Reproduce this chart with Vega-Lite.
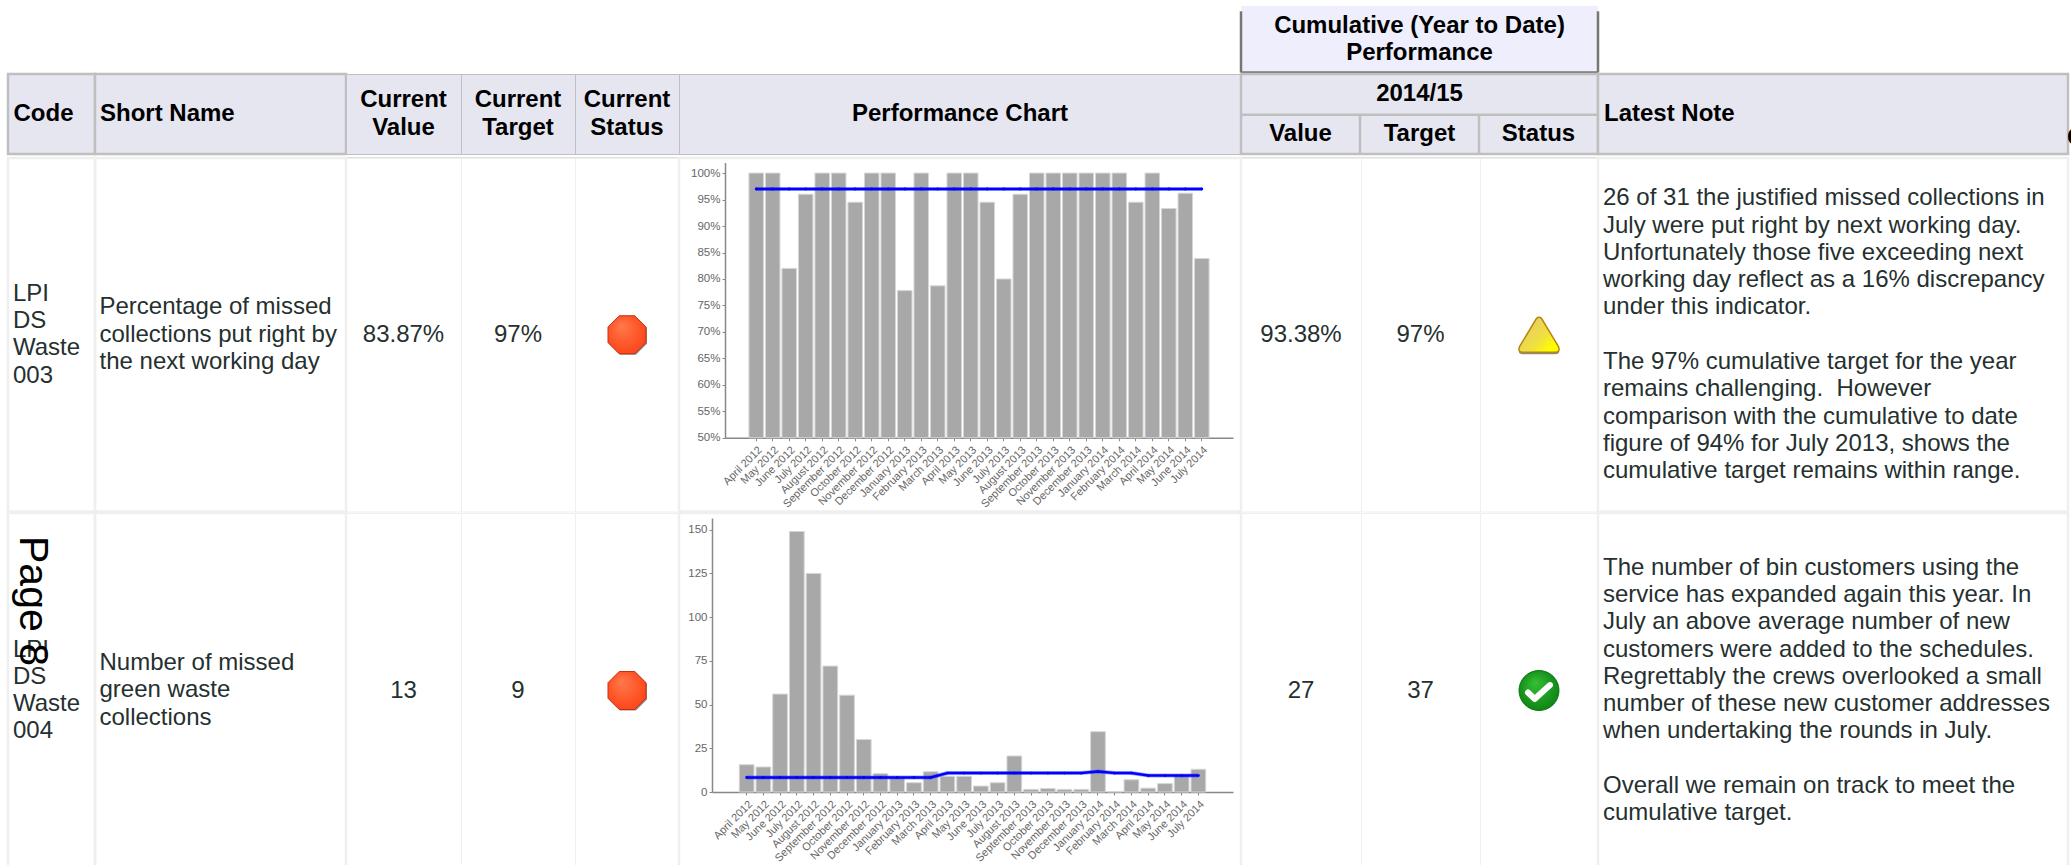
{"$schema":"https://vega.github.io/schema/vega-lite/v6.json","padding":{"left":6,"top":6,"right":0,"bottom":0},"background":"white","spacing":-2.5,"config":{"view":{"stroke":"#efefef","strokeWidth":2.5},"text":{"font":"Liberation Sans","fontSize":24,"lineHeight":27.3,"lineBreak":"\n","color":"#25302f"},"axis":{"grid":false,"title":null,"labelFont":"Liberation Sans","labelColor":"#666666","domainColor":"#888888","tickColor":"#888888","domainWidth":1.5,"tickSize":3}},"datasets":{"missed":[{"month":"April 2012","actual":100,"target":97},{"month":"May 2012","actual":100,"target":97},{"month":"June 2012","actual":82,"target":97},{"month":"July 2012","actual":96,"target":97},{"month":"August 2012","actual":100,"target":97},{"month":"September 2012","actual":100,"target":97},{"month":"October 2012","actual":94.5,"target":97},{"month":"November 2012","actual":100,"target":97},{"month":"December 2012","actual":100,"target":97},{"month":"January 2013","actual":77.8,"target":97},{"month":"February 2013","actual":100,"target":97},{"month":"March 2013","actual":78.7,"target":97},{"month":"April 2013","actual":100,"target":97},{"month":"May 2013","actual":100,"target":97},{"month":"June 2013","actual":94.5,"target":97},{"month":"July 2013","actual":80,"target":97},{"month":"August 2013","actual":96,"target":97},{"month":"September 2013","actual":100,"target":97},{"month":"October 2013","actual":100,"target":97},{"month":"November 2013","actual":100,"target":97},{"month":"December 2013","actual":100,"target":97},{"month":"January 2014","actual":100,"target":97},{"month":"February 2014","actual":100,"target":97},{"month":"March 2014","actual":94.5,"target":97},{"month":"April 2014","actual":100,"target":97},{"month":"May 2014","actual":93.3,"target":97},{"month":"June 2014","actual":96.2,"target":97},{"month":"July 2014","actual":83.87,"target":97}],"green":[{"month":"April 2012","actual":15.6,"target":8.3},{"month":"May 2012","actual":14.3,"target":8.3},{"month":"June 2012","actual":56,"target":8.3},{"month":"July 2012","actual":149,"target":8.3},{"month":"August 2012","actual":125,"target":8.3},{"month":"September 2012","actual":72,"target":8.3},{"month":"October 2012","actual":55.4,"target":8.3},{"month":"November 2012","actual":30,"target":8.3},{"month":"December 2012","actual":10.5,"target":8.3},{"month":"January 2013","actual":8,"target":8.3},{"month":"February 2013","actual":5.3,"target":8.3},{"month":"March 2013","actual":11.6,"target":8.3},{"month":"April 2013","actual":9,"target":10.8},{"month":"May 2013","actual":9,"target":10.8},{"month":"June 2013","actual":3.4,"target":10.8},{"month":"July 2013","actual":5.3,"target":10.8},{"month":"August 2013","actual":20.6,"target":10.8},{"month":"September 2013","actual":1.5,"target":10.8},{"month":"October 2013","actual":2,"target":10.8},{"month":"November 2013","actual":1.5,"target":10.8},{"month":"December 2013","actual":1.5,"target":10.8},{"month":"January 2014","actual":34.5,"target":11.7},{"month":"February 2014","actual":0.3,"target":10.8},{"month":"March 2014","actual":7,"target":10.8},{"month":"April 2014","actual":2.2,"target":9.4},{"month":"May 2014","actual":4.8,"target":9.4},{"month":"June 2014","actual":9.5,"target":9.4},{"month":"July 2014","actual":13,"target":9.4}]},"vconcat":[{"hconcat":[{"width":1233,"height":66.5,"view":{"stroke":null},"data":{"values":[{"t":""}]},"mark":{"type":"rect","opacity":0},"encoding":{}},{"width":357,"height":66.5,"view":{"stroke":null,"fill":"#eeeefc"},"data":{"values":[{"t":"Cumulative (Year to Date)\nPerformance"}]},"layer":[{"mark":{"type":"text","fontWeight":"bold","color":"#000000","dy":-13.65},"encoding":{"text":{"field":"t"}}},{"mark":{"type":"rule","color":"#777770","strokeWidth":2.5},"encoding":{"x":{"datum":0,"scale":{"domain":[0,1]},"axis":null},"y":{"datum":0.92,"scale":{"domain":[0,1]},"axis":null},"y2":{"datum":0}}},{"mark":{"type":"rule","color":"#777770","strokeWidth":2.5},"encoding":{"x":{"datum":1,"scale":{"domain":[0,1]},"axis":null},"y":{"datum":0.92,"scale":{"domain":[0,1]},"axis":null},"y2":{"datum":0}}},{"mark":{"type":"rule","color":"#777770","strokeWidth":2.5},"encoding":{"y":{"datum":0,"scale":{"domain":[0,1]},"axis":null}}}]}],"spacing":0,"bounds":"flush"},{"hconcat":[{"width":87,"height":80,"view":{"stroke":"#bfbfbf","fill":"#e6e6f0"},"data":{"values":[{"t":"Code"}]},"mark":{"type":"text","align":"left","dx":5.5,"fontWeight":"bold","color":"#000000"},"encoding":{"text":{"field":"t"},"x":{"datum":0,"scale":{"domain":[0,1]},"axis":null}}},{"width":251,"height":80,"view":{"stroke":"#bfbfbf","fill":"#e6e6f0"},"data":{"values":[{"t":"Short Name"}]},"mark":{"type":"text","align":"left","dx":5,"fontWeight":"bold","color":"#000000"},"encoding":{"text":{"field":"t"},"x":{"datum":0,"scale":{"domain":[0,1]},"axis":null}}},{"width":115,"height":80,"view":{"stroke":"#bfbfbf","fill":"#e6e6f0"},"data":{"values":[{"t":"Current\nValue"}]},"mark":{"type":"text","dy":-13.65,"fontWeight":"bold","color":"#000000"},"encoding":{"text":{"field":"t"}}},{"width":114,"height":80,"view":{"stroke":"#bfbfbf","fill":"#e6e6f0"},"data":{"values":[{"t":"Current\nTarget"}]},"mark":{"type":"text","dy":-13.65,"fontWeight":"bold","color":"#000000"},"encoding":{"text":{"field":"t"}}},{"width":104,"height":80,"view":{"stroke":"#bfbfbf","fill":"#e6e6f0"},"data":{"values":[{"t":"Current\nStatus"}]},"mark":{"type":"text","dy":-13.65,"fontWeight":"bold","color":"#000000"},"encoding":{"text":{"field":"t"}}},{"width":562,"height":80,"view":{"stroke":"#bfbfbf","fill":"#e6e6f0"},"data":{"values":[{"t":"Performance Chart"}]},"mark":{"type":"text","fontWeight":"bold","color":"#000000"},"encoding":{"text":{"field":"t"}}},{"width":357,"height":80,"view":{"stroke":"#bfbfbf","fill":"#e6e6f0"},"data":{"values":[{"y":"2014/15","v":"Value","g":"Target","s":"Status"}]},"layer":[{"mark":{"type":"text","fontWeight":"bold","color":"#000000"},"encoding":{"text":{"field":"y"},"x":{"datum":1.5,"scale":{"domain":[0,3]},"axis":null},"y":{"datum":1.5,"scale":{"domain":[0,2]},"axis":null}}},{"mark":{"type":"text","fontWeight":"bold","color":"#000000"},"encoding":{"text":{"field":"v"},"x":{"datum":0.5,"scale":{"domain":[0,3]},"axis":null},"y":{"datum":0.49,"scale":{"domain":[0,2]},"axis":null}}},{"mark":{"type":"text","fontWeight":"bold","color":"#000000"},"encoding":{"text":{"field":"g"},"x":{"datum":1.5,"scale":{"domain":[0,3]},"axis":null},"y":{"datum":0.49,"scale":{"domain":[0,2]},"axis":null}}},{"mark":{"type":"text","fontWeight":"bold","color":"#000000"},"encoding":{"text":{"field":"s"},"x":{"datum":2.5,"scale":{"domain":[0,3]},"axis":null},"y":{"datum":0.49,"scale":{"domain":[0,2]},"axis":null}}},{"mark":{"type":"rule","color":"#bfbfbf","strokeWidth":2.5},"encoding":{"y":{"datum":0.98,"scale":{"domain":[0,2]},"axis":null}}},{"mark":{"type":"rule","color":"#bfbfbf","strokeWidth":2.5},"encoding":{"x":{"datum":1,"scale":{"domain":[0,3]},"axis":null},"y":{"datum":0.98,"scale":{"domain":[0,2]},"axis":null},"y2":{"datum":0}}},{"mark":{"type":"rule","color":"#bfbfbf","strokeWidth":2.5},"encoding":{"x":{"datum":2,"scale":{"domain":[0,3]},"axis":null},"y":{"datum":0.98,"scale":{"domain":[0,2]},"axis":null},"y2":{"datum":0}}}]},{"width":470,"height":80,"view":{"stroke":"#bfbfbf","fill":"#e6e6f0"},"data":{"values":[{"t":"Latest Note"}]},"mark":{"type":"text","align":"left","dx":6,"fontWeight":"bold","color":"#000000"},"encoding":{"text":{"field":"t"},"x":{"datum":0,"scale":{"domain":[0,1]},"axis":null}}},{"width":3,"height":80,"view":{"stroke":null},"data":{"values":[{"t":"C"}]},"mark":{"type":"text","align":"left","dx":-1,"dy":24,"clip":true,"fontWeight":"bold","color":"#000000"},"encoding":{"text":{"field":"t"},"x":{"datum":0,"scale":{"domain":[0,1]},"axis":null}}}],"spacing":0,"bounds":"flush"},{"width":2060,"height":0.5,"view":{"stroke":null},"data":{"values":[{"t":""}]},"mark":{"type":"rect","color":"#bfbfbf"},"encoding":{}},{"hconcat":[{"width":87,"height":353.5,"data":{"values":[{"t":"LPI\nDS\nWaste\n003"}]},"mark":{"type":"text","align":"left","dx":5,"dy":-41},"encoding":{"text":{"field":"t"},"x":{"datum":0,"scale":{"domain":[0,1]},"axis":null}}},{"width":251,"height":353.5,"data":{"values":[{"t":"Percentage of missed\ncollections put right by\nthe next working day"}]},"mark":{"type":"text","align":"left","dx":4.5,"dy":-27.3},"encoding":{"text":{"field":"t"},"x":{"datum":0,"scale":{"domain":[0,1]},"axis":null}}},{"width":115,"height":353.5,"view":{"stroke":"#efefef"},"data":{"values":[{"t":"83.87%"}]},"mark":{"type":"text"},"encoding":{"text":{"field":"t"}}},{"width":114,"height":353.5,"view":{"stroke":"#efefef"},"data":{"values":[{"t":"97%"}]},"mark":{"type":"text"},"encoding":{"text":{"field":"t"}}},{"width":104,"height":353.5,"view":{"stroke":"#efefef"},"data":{"values":[{"status":"Red"}]},"layer":[{"mark":{"type":"point","filled":true,"opacity":1,"fill":"#8a8a8a","shape":"M-0.41,-0.95 L0.47,-0.95 L1.05,-0.36 L1.05,0.47 L0.47,1.05 L-0.36,1.05 L-0.95,0.47 L-0.95,-0.41 Z","size":1444,"strokeWidth":0},"encoding":{}},{"mark":{"type":"point","filled":true,"opacity":1,"fill":{"gradient":"radial","x1":0.35,"y1":0.25,"r1":0,"x2":0.5,"y2":0.5,"r2":0.7,"stops":[{"offset":0,"color":"#ff7a4a"},{"offset":1,"color":"#fc3a10"}]},"stroke":"#c8300f","strokeWidth":1,"shape":"M-0.41,-1 L0.41,-1 L1,-0.41 L1,0.41 L0.41,1 L-0.41,1 L-1,0.41 L-1,-0.41 Z","size":1444},"encoding":{}}]},{"width":562,"height":353.5,"data":{"name":"missed"},"encoding":{"x":{"field":"month","type":"nominal","sort":null,"scale":{"domain":[" ","April 2012","May 2012","June 2012","July 2012","August 2012","September 2012","October 2012","November 2012","December 2012","January 2013","February 2013","March 2013","April 2013","May 2013","June 2013","July 2013","August 2013","September 2013","October 2013","November 2013","December 2013","January 2014","February 2014","March 2014","April 2014","May 2014","June 2014","July 2014","  "],"range":[46,554],"paddingInner":0.12,"paddingOuter":0.45},"axis":{"values":["April 2012","May 2012","June 2012","July 2012","August 2012","September 2012","October 2012","November 2012","December 2012","January 2013","February 2013","March 2013","April 2013","May 2013","June 2013","July 2013","August 2013","September 2013","October 2013","November 2013","December 2013","January 2014","February 2014","March 2014","April 2014","May 2014","June 2014","July 2014"],"offset":-73.7,"labelAngle":-45,"labelFontSize":11,"labelOverlap":false,"labelPadding":3}}},"layer":[{"mark":{"type":"bar","fill":"#a8a8a8","stroke":"#d6d6d6","strokeWidth":1},"encoding":{"y":{"field":"actual","type":"quantitative","scale":{"domain":[50,102],"range":[279.8,4.5],"nice":false,"zero":false,"clamp":true},"axis":{"offset":-46,"values":[50,55,60,65,70,75,80,85,90,95,100],"labelExpr":"datum.value+'%'","labelFontSize":11.5,"labelOverlap":false}}}},{"mark":{"type":"line","color":"#0000ff","strokeWidth":4,"opacity":0.35},"encoding":{"y":{"field":"target","type":"quantitative","axis":{"offset":-46,"values":[50,55,60,65,70,75,80,85,90,95,100],"labelExpr":"datum.value+'%'","labelFontSize":11.5,"labelOverlap":false}}}},{"mark":{"type":"line","color":"#0000ff","strokeWidth":2.5,"point":{"filled":true,"size":8,"color":"#0000ff"}},"encoding":{"y":{"field":"target","type":"quantitative","axis":{"offset":-46,"values":[50,55,60,65,70,75,80,85,90,95,100],"labelExpr":"datum.value+'%'","labelFontSize":11.5,"labelOverlap":false}}}}]},{"width":120,"height":353.5,"view":{"stroke":"#efefef"},"data":{"values":[{"t":"93.38%"}]},"mark":{"type":"text"},"encoding":{"text":{"field":"t"}}},{"width":119,"height":353.5,"view":{"stroke":"#efefef"},"data":{"values":[{"t":"97%"}]},"mark":{"type":"text"},"encoding":{"text":{"field":"t"}}},{"width":118,"height":353.5,"view":{"stroke":"#efefef"},"data":{"values":[{"status":"Amber"}]},"layer":[{"mark":{"type":"point","filled":true,"opacity":1,"fill":"#8a8a8a","strokeWidth":0,"shape":"M-0.1,-0.76 Q0,-0.85 0.1,-0.76 L0.95,0.7 Q1.05,0.95 0.8,0.95 L-0.8,0.95 Q-1.05,0.95 -0.95,0.7 Z","size":1681},"encoding":{}},{"mark":{"type":"point","filled":true,"opacity":1,"fill":{"gradient":"linear","x1":0.1,"y1":0.3,"x2":0.8,"y2":0.9,"stops":[{"offset":0,"color":"#e6ce62"},{"offset":0.6,"color":"#f0e040"},{"offset":1,"color":"#ffff00"}]},"stroke":"#b8860b","strokeWidth":1.5,"shape":"M-0.12,-0.8 Q0,-0.9 0.12,-0.8 L0.95,0.58 Q1.05,0.85 0.8,0.85 L-0.8,0.85 Q-1.05,0.85 -0.95,0.58 Z","size":1681},"encoding":{}}]},{"width":470,"height":353.5,"data":{"values":[{"a":"26 of 31 the justified missed collections in\nJuly were put right by next working day.\nUnfortunately those five exceeding next\nworking day reflect as a 16% discrepancy\nunder this indicator.","b":"The 97% cumulative target for the year\nremains challenging.\u00a0 However\ncomparison with the cumulative to date\nfigure of 94% for July 2013, shows the\ncumulative target remains within range."}]},"layer":[{"mark":{"type":"text","align":"left","dx":5,"dy":-136.5},"encoding":{"text":{"field":"a"},"x":{"datum":0,"scale":{"domain":[0,1]},"axis":null}}},{"mark":{"type":"text","align":"left","dx":5,"dy":27.3},"encoding":{"text":{"field":"b"},"x":{"datum":0,"scale":{"domain":[0,1]},"axis":null}}}]}],"spacing":0,"bounds":"flush"},{"hconcat":[{"width":87,"height":355,"data":{"values":[{"t":"LPI\nDS\nWaste\n004","p":"Page 8"}]},"layer":[{"mark":{"type":"text","align":"left","dx":5,"dy":-41},"encoding":{"text":{"field":"t"},"x":{"datum":0,"scale":{"domain":[0,87]},"axis":null}}},{"mark":{"type":"text","align":"left","baseline":"alphabetic","angle":90,"fontSize":41,"color":"#000000"},"encoding":{"text":{"field":"p"},"x":{"datum":12,"scale":{"domain":[0,87]},"axis":null},"y":{"datum":332,"scale":{"domain":[0,355]},"axis":null}}}]},{"width":251,"height":355,"data":{"values":[{"t":"Number of missed\ngreen waste\ncollections"}]},"mark":{"type":"text","align":"left","dx":4.5,"dy":-27.3},"encoding":{"text":{"field":"t"},"x":{"datum":0,"scale":{"domain":[0,1]},"axis":null}}},{"width":115,"height":355,"view":{"stroke":"#efefef"},"data":{"values":[{"t":"13"}]},"mark":{"type":"text"},"encoding":{"text":{"field":"t"}}},{"width":114,"height":355,"view":{"stroke":"#efefef"},"data":{"values":[{"t":"9"}]},"mark":{"type":"text"},"encoding":{"text":{"field":"t"}}},{"width":104,"height":355,"view":{"stroke":"#efefef"},"data":{"values":[{"status":"Red"}]},"layer":[{"mark":{"type":"point","filled":true,"opacity":1,"fill":"#8a8a8a","shape":"M-0.41,-0.95 L0.47,-0.95 L1.05,-0.36 L1.05,0.47 L0.47,1.05 L-0.36,1.05 L-0.95,0.47 L-0.95,-0.41 Z","size":1444,"strokeWidth":0},"encoding":{}},{"mark":{"type":"point","filled":true,"opacity":1,"fill":{"gradient":"radial","x1":0.35,"y1":0.25,"r1":0,"x2":0.5,"y2":0.5,"r2":0.7,"stops":[{"offset":0,"color":"#ff7a4a"},{"offset":1,"color":"#fc3a10"}]},"stroke":"#c8300f","strokeWidth":1,"shape":"M-0.41,-1 L0.41,-1 L1,-0.41 L1,0.41 L0.41,1 L-0.41,1 L-1,0.41 L-1,-0.41 Z","size":1444},"encoding":{}}]},{"width":562,"height":355,"data":{"name":"green"},"encoding":{"x":{"field":"month","type":"nominal","sort":null,"scale":{"domain":[" ","April 2012","May 2012","June 2012","July 2012","August 2012","September 2012","October 2012","November 2012","December 2012","January 2013","February 2013","March 2013","April 2013","May 2013","June 2013","July 2013","August 2013","September 2013","October 2013","November 2013","December 2013","January 2014","February 2014","March 2014","April 2014","May 2014","June 2014","July 2014","  "],"range":[33,554],"paddingInner":0.12,"paddingOuter":0.63},"axis":{"values":["April 2012","May 2012","June 2012","July 2012","August 2012","September 2012","October 2012","November 2012","December 2012","January 2013","February 2013","March 2013","April 2013","May 2013","June 2013","July 2013","August 2013","September 2013","October 2013","November 2013","December 2013","January 2014","February 2014","March 2014","April 2014","May 2014","June 2014","July 2014"],"offset":-76,"labelAngle":-45,"labelFontSize":11,"labelOverlap":false,"labelPadding":3}}},"layer":[{"mark":{"type":"bar","fill":"#a8a8a8","stroke":"#d6d6d6","strokeWidth":1},"encoding":{"y":{"field":"actual","type":"quantitative","scale":{"domain":[0,156.7],"range":[279,5],"nice":false},"axis":{"offset":-33,"values":[0,25,50,75,100,125,150],"labelFontSize":11.5,"labelOverlap":false}}}},{"mark":{"type":"line","color":"#0000ff","strokeWidth":4,"opacity":0.35},"encoding":{"y":{"field":"target","type":"quantitative","axis":{"offset":-33,"values":[0,25,50,75,100,125,150],"labelFontSize":11.5,"labelOverlap":false}}}},{"mark":{"type":"line","color":"#0000ff","strokeWidth":2.5,"point":{"filled":true,"size":8,"color":"#0000ff"}},"encoding":{"y":{"field":"target","type":"quantitative","axis":{"offset":-33,"values":[0,25,50,75,100,125,150],"labelFontSize":11.5,"labelOverlap":false}}}}]},{"width":120,"height":355,"view":{"stroke":"#efefef"},"data":{"values":[{"t":"27"}]},"mark":{"type":"text"},"encoding":{"text":{"field":"t"}}},{"width":119,"height":355,"view":{"stroke":"#efefef"},"data":{"values":[{"t":"37"}]},"mark":{"type":"text"},"encoding":{"text":{"field":"t"}}},{"width":118,"height":355,"view":{"stroke":"#efefef"},"data":{"values":[{"status":"Green"}]},"layer":[{"mark":{"type":"point","filled":true,"opacity":1,"fill":"#9a9a9a","strokeWidth":0,"shape":"circle","size":1300},"encoding":{}},{"mark":{"type":"point","filled":true,"opacity":1,"fill":{"gradient":"radial","x1":0.4,"y1":0.3,"r1":0,"x2":0.5,"y2":0.5,"r2":0.65,"stops":[{"offset":0,"color":"#35c035"},{"offset":1,"color":"#07790f"}]},"stroke":"#0a7a12","strokeWidth":1,"shape":"M-1,0 A1,1 0 1,1 1,0 A1,1 0 1,1 -1,0 Z","size":1600},"encoding":{}},{"mark":{"type":"point","filled":false,"opacity":1,"stroke":"#ffffff","strokeWidth":6,"strokeCap":"round","strokeJoin":"round","shape":"M-0.55,0.1 L-0.22,0.42 L0.55,-0.27","size":1600},"encoding":{}}]},{"width":470,"height":355,"data":{"values":[{"a":"The number of bin customers using the\nservice has expanded again this year. In\nJuly an above average number of new\ncustomers were added to the schedules.\nRegrettably the crews overlooked a small\nnumber of these new customer addresses\nwhen undertaking the rounds in July.","b":"Overall we remain on track to meet the\ncumulative target."}]},"layer":[{"mark":{"type":"text","align":"left","dx":5,"dy":-122.85},"encoding":{"text":{"field":"a"},"x":{"datum":0,"scale":{"domain":[0,1]},"axis":null}}},{"mark":{"type":"text","align":"left","dx":5,"dy":95.55},"encoding":{"text":{"field":"b"},"x":{"datum":0,"scale":{"domain":[0,1]},"axis":null}}}]}],"spacing":0,"bounds":"flush"}]}
